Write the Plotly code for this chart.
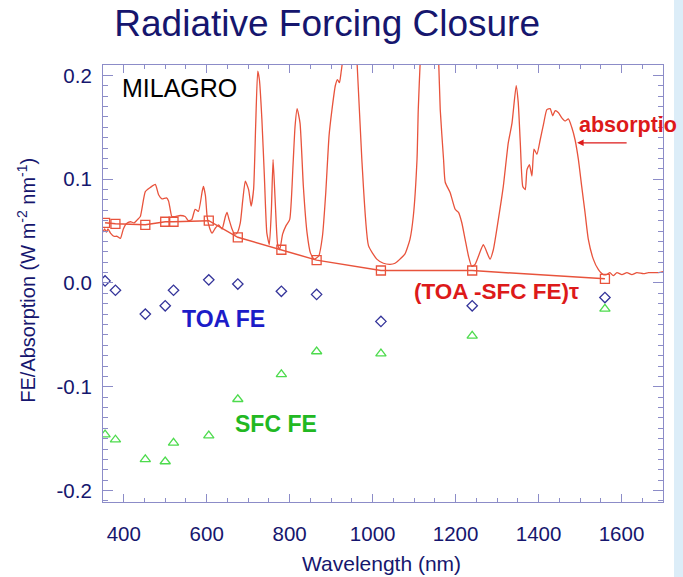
import plotly.graph_objects as go

# Channel wavelengths (nm) shared by the forcing-efficiency series
wl_channels = [355, 380, 452, 500, 520, 605, 675, 780, 865, 1020, 1240, 1560]
toa_fe = [0.002, -0.007, -0.030, -0.022, -0.007, 0.003, -0.001, -0.008,
          -0.011, -0.037, -0.022, -0.014]
sfc_fe = [-0.146, -0.151, -0.170, -0.172, -0.154, -0.147, -0.112, -0.088,
          -0.066, -0.068, -0.051, -0.025]
toa_minus_sfc_tau = [0.058, 0.057, 0.056, 0.059, 0.059, 0.060, 0.044, 0.032,
                     0.022, 0.012, 0.012, 0.004]

# Measured spectral absorption
abs_wl = [350, 354, 358, 362, 368, 376, 384, 392, 399, 406, 416, 425, 433, 440,
          452, 464, 476, 484, 492, 503, 508, 512, 516, 524, 536, 548, 556, 564,
          572, 580, 589, 592, 597, 601, 607, 613, 621, 629, 637, 645, 649, 654,
          661, 667, 673, 681, 687, 693, 701, 707, 713, 718, 723, 727, 733, 739,
          745, 751, 756, 760, 765, 771, 776, 783, 791, 800, 808, 813, 818, 825,
          833, 842, 850, 859, 870, 879, 887, 895, 902, 910, 915, 920, 924, 928,
          936, 946, 955, 962, 974, 990, 1010, 1026, 1042, 1054, 1066, 1078,
          1090, 1098, 1107, 1110, 1115, 1127, 1139, 1151, 1159, 1163, 1171,
          1175, 1187, 1199, 1207, 1215, 1223, 1231, 1239, 1247, 1260, 1267,
          1276, 1283, 1291, 1303, 1315, 1327, 1336, 1346, 1351, 1356, 1362,
          1368, 1372, 1378, 1384, 1389, 1396, 1404, 1412, 1420, 1428, 1434,
          1440, 1448, 1456, 1464, 1472, 1480, 1488, 1496, 1504, 1512, 1520,
          1532, 1544, 1556, 1564, 1572, 1580, 1589, 1601, 1613, 1625, 1637,
          1653, 1665, 1677, 1689, 1701]
abs_val = [0.049, 0.052, 0.049, 0.052, 0.048, 0.045, 0.045, 0.043, 0.052, 0.057,
           0.059, 0.058, 0.061, 0.064, 0.088, 0.092, 0.095, 0.085, 0.081, 0.082,
           0.079, 0.071, 0.064, 0.064, 0.065, 0.064, 0.060, 0.061, 0.071, 0.069,
           0.088, 0.093, 0.084, 0.064, 0.053, 0.048, 0.053, 0.056, 0.052, 0.064,
           0.068, 0.061, 0.052, 0.047, 0.048, 0.058, 0.080, 0.098, 0.090, 0.074,
           0.090, 0.151, 0.204, 0.196, 0.158, 0.103, 0.048, 0.037, 0.071, 0.119,
           0.080, 0.037, 0.032, 0.047, 0.055, 0.061, 0.113, 0.151, 0.168, 0.154,
           0.093, 0.048, 0.029, 0.023, 0.026, 0.045, 0.087, 0.142, 0.167, 0.190,
           0.196, 0.193, 0.203, 0.216, 0.260, 0.280, 0.250, 0.216, 0.119, 0.036,
           0.023, 0.019, 0.018, 0.019, 0.023, 0.028, 0.042, 0.064, 0.119, 0.167,
           0.216, 0.300, 0.320, 0.280, 0.216, 0.167, 0.119, 0.097, 0.087, 0.071,
           0.068, 0.058, 0.042, 0.026, 0.016, 0.018, 0.031, 0.037, 0.029, 0.023,
           0.032, 0.061, 0.093, 0.135, 0.154, 0.190, 0.174, 0.135, 0.093, 0.090,
           0.109, 0.114, 0.103, 0.129, 0.124, 0.138, 0.153, 0.167, 0.168, 0.161,
           0.166, 0.164, 0.159, 0.156, 0.158, 0.150, 0.138, 0.119, 0.093, 0.068,
           0.042, 0.023, 0.013, 0.008, 0.008, 0.010, 0.007, 0.010, 0.008, 0.010,
           0.008, 0.010, 0.009, 0.010, 0.010, 0.010, 0.011]

x_tickvals = [400, 600, 800, 1000, 1200, 1400, 1600]
y_tickvals = [-0.2, -0.1, 0.0, 0.1, 0.2]
y_ticktext = ["-0.2", "-0.1", "0.0", "0.1", "0.2"]

RED = "#e8533c"
LABEL_RED = "#dd1a1a"
NAVY = "#16166e"
AXIS = "#8c8cc8"
FONT = "Liberation Sans, Arial, sans-serif"

fig = go.Figure()
fig.add_trace(go.Scatter(x=abs_wl, y=abs_val, mode="lines",
                         line=dict(color=RED, width=1.3, shape="spline",
                                   smoothing=0.5),
                         showlegend=False))
fig.add_trace(go.Scatter(x=wl_channels, y=toa_minus_sfc_tau, mode="lines+markers",
                         line=dict(color=RED, width=1.5),
                         marker=dict(symbol="square-open", size=9,
                                     color=RED, line=dict(width=1.3)),
                         showlegend=False))
fig.add_trace(go.Scatter(x=wl_channels, y=toa_fe, mode="markers",
                         marker=dict(symbol="diamond-open", size=8,
                                     color="#34349a", line=dict(width=1.3)),
                         showlegend=False))
fig.add_trace(go.Scatter(x=wl_channels, y=sfc_fe, mode="markers",
                         marker=dict(symbol="triangle-up-open", size=9,
                                     color="#4ddb4d", line=dict(width=1.3)),
                         showlegend=False))

axis_common = dict(showgrid=False, zeroline=False, showline=True, linecolor=AXIS,
                   linewidth=1.2, mirror="allticks", ticks="inside",
                   tickcolor=AXIS, tickwidth=1.2,
                   tickfont=dict(family=FONT, size=20.5, color=NAVY))

fig.update_xaxes(range=[350, 1700], tickvals=x_tickvals, ticklen=8,
                 ticklabelstandoff=13,
                 minor=dict(ticks="inside", dtick=50, tick0=0, ticklen=4,
                            tickcolor=AXIS, tickwidth=1.2),
                 **axis_common)
fig.update_yaxes(range=[-0.211, 0.21], tickvals=y_tickvals, ticktext=y_ticktext,
                 ticklen=10, ticklabelstandoff=6,
                 minor=dict(ticks="inside", dtick=0.01, tick0=0, ticklen=5,
                            tickcolor=AXIS, tickwidth=1.2),
                 **axis_common)

annotations = [
    dict(x=0.498, y=-0.1396, xref="paper", yref="paper", text="Wavelength (nm)",
         xanchor="center", yanchor="middle",
         showarrow=False, font=dict(family=FONT, size=21, color=NAVY)),
    dict(x=-0.138, y=0.508, xref="paper", yref="paper", textangle=-90,
         xanchor="center", yanchor="middle",
         text="FE/Absorption (W m<sup>-2</sup> nm<sup>-1</sup>)",
         showarrow=False, font=dict(family=FONT, size=20, color=NAVY)),
    dict(x=392, y=0.188, xref="x", yref="y", text="MILAGRO", xanchor="left",
         showarrow=False, font=dict(family=FONT, size=25, color="black")),
    dict(x=536, y=-0.035, xref="x", yref="y", text="<b>TOA FE</b>", xanchor="left",
         showarrow=False, font=dict(family=FONT, size=23, color="#1c1cc8")),
    dict(x=664, y=-0.136, xref="x", yref="y", text="<b>SFC FE</b>", xanchor="left",
         showarrow=False, font=dict(family=FONT, size=23, color="#22b822")),
    dict(x=1095, y=-0.008, xref="x", yref="y", text="<b>(TOA -SFC FE)\u03c4</b>",
         xanchor="left", showarrow=False,
         font=dict(family=FONT, size=22.5, color=LABEL_RED)),
    dict(x=1493, y=0.152, xref="x", yref="y", text="<b>absorptio</b>",
         xanchor="left", showarrow=False,
         font=dict(family=FONT, size=21.5, color=LABEL_RED)),
    dict(x=1493, y=0.135, xref="x", yref="y", ax=51, ay=0, text="",
         showarrow=True, arrowhead=2, arrowsize=1, arrowwidth=1.3,
         arrowcolor=LABEL_RED),
]

fig.update_layout(
    width=683, height=577,
    margin=dict(l=103, r=20, t=65, b=75),
    paper_bgcolor="white", plot_bgcolor="white",
    title=dict(text="Radiative Forcing Closure", x=0.479, xref="container",
               xanchor="center", y=0.96, yanchor="middle",
               font=dict(family=FONT, size=37, color=NAVY)),
    annotations=annotations,
    shapes=[dict(type="rect", xref="paper", yref="paper",
                 x0=(674 - 103) / 560, x1=(690 - 103) / 560, y0=-0.2, y1=1.2,
                 fillcolor="#dcedf8", line=dict(width=0), layer="below")],
)

fig.write_html("out.html")
